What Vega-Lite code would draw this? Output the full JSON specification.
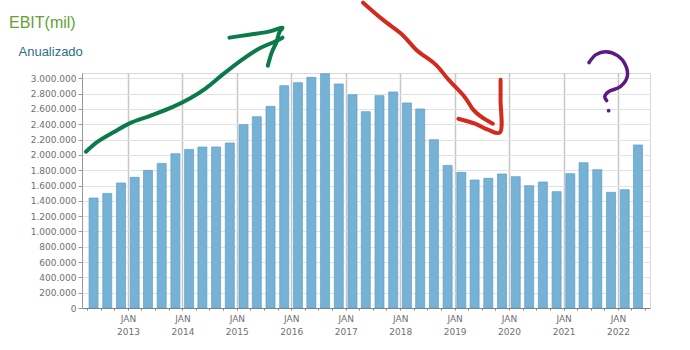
{
  "$schema": "https://vega.github.io/schema/vega-lite/v6.json",
  "autosize": {"type": "none"},
  "width": 568,
  "height": 235,
  "padding": {"left": 82, "top": 73, "right": 40, "bottom": 42},
  "background": "white",
  "config": {
    "locale": {"number": {"decimal": ",", "thousands": ".", "grouping": [3], "currency": ["", ""]}},
    "view": {"stroke": "#d8d8d8", "strokeWidth": 1},
    "font": "Liberation Sans"
  },
  "title": {
    "text": "EBIT(mil)",
    "anchor": "start",
    "frame": "group",
    "dx": -73,
    "offset": 0,
    "dy": 43,
    "baseline": "alphabetic",
    "fontSize": 16,
    "fontWeight": "normal",
    "font": "Liberation Sans",
    "color": "#64a032"
  },
  "datasets": {
    "bars": [
      {"t": "2012-05-15", "v": 1437000},
      {"t": "2012-08-15", "v": 1497000},
      {"t": "2012-11-15", "v": 1633000},
      {"t": "2013-02-15", "v": 1707000},
      {"t": "2013-05-15", "v": 1798000},
      {"t": "2013-08-15", "v": 1889000},
      {"t": "2013-11-15", "v": 2016000},
      {"t": "2014-02-15", "v": 2072000},
      {"t": "2014-05-15", "v": 2103000},
      {"t": "2014-08-15", "v": 2103000},
      {"t": "2014-11-15", "v": 2156000},
      {"t": "2015-02-15", "v": 2395000},
      {"t": "2015-05-15", "v": 2499000},
      {"t": "2015-08-15", "v": 2634000},
      {"t": "2015-11-15", "v": 2904000},
      {"t": "2016-02-15", "v": 2944000},
      {"t": "2016-05-15", "v": 3013000},
      {"t": "2016-08-15", "v": 3061000},
      {"t": "2016-11-15", "v": 2927000},
      {"t": "2017-02-15", "v": 2787000},
      {"t": "2017-05-15", "v": 2565000},
      {"t": "2017-08-15", "v": 2774000},
      {"t": "2017-11-15", "v": 2822000},
      {"t": "2018-02-15", "v": 2679000},
      {"t": "2018-05-15", "v": 2600000},
      {"t": "2018-08-15", "v": 2199000},
      {"t": "2018-11-15", "v": 1863000},
      {"t": "2019-02-15", "v": 1772000},
      {"t": "2019-05-15", "v": 1672000},
      {"t": "2019-08-15", "v": 1694000},
      {"t": "2019-11-15", "v": 1751000},
      {"t": "2020-02-15", "v": 1716000},
      {"t": "2020-05-15", "v": 1598000},
      {"t": "2020-08-15", "v": 1646000},
      {"t": "2020-11-15", "v": 1520000},
      {"t": "2021-02-15", "v": 1755000},
      {"t": "2021-05-15", "v": 1898000},
      {"t": "2021-08-15", "v": 1807000},
      {"t": "2021-11-15", "v": 1511000},
      {"t": "2022-02-15", "v": 1546000},
      {"t": "2022-05-15", "v": 2130000}
    ],
    "ann": [
      {"g": "green1", "i": 1, "t": "2012-03-25", "v": 2042000},
      {"g": "green1", "i": 2, "t": "2012-06-12", "v": 2173000},
      {"g": "green1", "i": 3, "t": "2012-10-02", "v": 2303000},
      {"g": "green1", "i": 4, "t": "2013-01-22", "v": 2421000},
      {"g": "green1", "i": 5, "t": "2013-06-03", "v": 2513000},
      {"g": "green1", "i": 6, "t": "2013-11-02", "v": 2630000},
      {"g": "green1", "i": 7, "t": "2014-02-22", "v": 2740000},
      {"g": "green1", "i": 8, "t": "2014-06-07", "v": 2870000},
      {"g": "green1", "i": 9, "t": "2014-09-27", "v": 3048000},
      {"g": "green1", "i": 10, "t": "2015-02-06", "v": 3244000},
      {"g": "green1", "i": 11, "t": "2015-05-29", "v": 3388000},
      {"g": "green1", "i": 12, "t": "2015-09-12", "v": 3479000},
      {"g": "green1", "i": 13, "t": "2015-11-03", "v": 3532000},
      {"g": "green2", "i": 1, "t": "2014-11-13", "v": 3532000},
      {"g": "green2", "i": 2, "t": "2015-03-24", "v": 3571000},
      {"g": "green2", "i": 3, "t": "2015-08-03", "v": 3610000},
      {"g": "green2", "i": 4, "t": "2015-11-03", "v": 3662000},
      {"g": "green2", "i": 5, "t": "2015-10-15", "v": 3610000},
      {"g": "green2", "i": 6, "t": "2015-09-25", "v": 3479000},
      {"g": "green2", "i": 7, "t": "2015-08-23", "v": 3336000},
      {"g": "green2", "i": 8, "t": "2015-07-28", "v": 3166000},
      {"g": "red1", "i": 1, "t": "2017-04-27", "v": 3989000},
      {"g": "red1", "i": 2, "t": "2017-09-06", "v": 3767000},
      {"g": "red1", "i": 3, "t": "2018-01-15", "v": 3571000},
      {"g": "red1", "i": 4, "t": "2018-04-18", "v": 3375000},
      {"g": "red1", "i": 5, "t": "2018-08-27", "v": 3179000},
      {"g": "red1", "i": 6, "t": "2018-11-21", "v": 2983000},
      {"g": "red1", "i": 7, "t": "2019-03-13", "v": 2748000},
      {"g": "red1", "i": 8, "t": "2019-05-05", "v": 2591000},
      {"g": "red1", "i": 9, "t": "2019-06-27", "v": 2500000},
      {"g": "red1", "i": 10, "t": "2019-09-14", "v": 2408000},
      {"g": "red2", "i": 1, "t": "2019-01-26", "v": 2473000},
      {"g": "red2", "i": 2, "t": "2019-05-18", "v": 2408000},
      {"g": "red2", "i": 3, "t": "2019-08-12", "v": 2330000},
      {"g": "red2", "i": 4, "t": "2019-10-30", "v": 2290000},
      {"g": "red2", "i": 5, "t": "2019-11-05", "v": 2722000},
      {"g": "red2", "i": 6, "t": "2019-11-05", "v": 2983000},
      {"g": "purple", "i": 1, "t": "2021-06-20", "v": 3205000},
      {"g": "purple", "i": 2, "t": "2021-08-06", "v": 3310000},
      {"g": "purple", "i": 3, "t": "2021-10-11", "v": 3349000},
      {"g": "purple", "i": 4, "t": "2021-12-29", "v": 3297000},
      {"g": "purple", "i": 5, "t": "2022-02-19", "v": 3179000},
      {"g": "purple", "i": 6, "t": "2022-03-04", "v": 3022000},
      {"g": "purple", "i": 7, "t": "2022-01-17", "v": 2892000},
      {"g": "purple", "i": 8, "t": "2021-10-30", "v": 2826000},
      {"g": "purple", "i": 9, "t": "2021-10-04", "v": 2761000},
      {"g": "purple", "i": 10, "t": "2021-10-17", "v": 2709000},
      {"g": "dot", "i": 1, "t": "2021-10-30", "v": 2578000}
    ]
  },
  "encoding": {
    "x": {
      "field": "t",
      "type": "temporal",
      "title": null,
      "scale": {"type": "utc", "domain": [{"year": 2012, "month": 4, "date": 1, "utc": true}, {"year": 2022, "month": 7, "date": 1, "utc": true}], "nice": false},
      "axis": {
        "tickCount": {"interval": "month", "step": 3},
        "labelExpr": "utcmonth(datum.value) == 0 ? ['JAN', utcFormat(datum.value, '%Y')] : ''",
        "labelOverlap": false,
        "labelFlush": false,
        "labelBound": false,
        "labelFont": "DejaVu Sans",
        "labelFontSize": 9,
        "labelColor": "#707070",
        "labelLineHeight": 13,
        "labelPadding": 4,
        "domainColor": "#808080",
        "tickColor": "#808080",
        "tickSize": 2,
        "gridColor": {"condition": {"test": "utcmonth(datum.value) == 0", "value": "#c6c6c6"}, "value": "transparent"},
        "gridWidth": 1.5
      }
    },
    "y": {
      "field": "v",
      "type": "quantitative",
      "scale": {"domain": [0, 3070000], "nice": false, "zero": true},
      "axis": {
        "values": [0, 200000, 400000, 600000, 800000, 1000000, 1200000, 1400000, 1600000, 1800000, 2000000, 2200000, 2400000, 2600000, 2800000, 3000000],
        "format": ",d",
        "labelFont": "DejaVu Sans",
        "labelFontSize": 9,
        "labelColor": "#707070",
        "labelPadding": 2,
        "tickSize": 4,
        "tickColor": "#999999",
        "domainColor": "#999999",
        "gridColor": "#e2e2e2",
        "title": "Anualizado",
        "titleAngle": 0,
        "titleAlign": "left",
        "titleBaseline": "alphabetic",
        "titleX": -64,
        "titleY": -18,
        "titleFont": "Liberation Sans",
        "titleFontSize": 13,
        "titleFontWeight": "normal",
        "titleColor": "#2d6e8c"
      }
    }
  },
  "layer": [
    {
      "data": {"name": "bars"},
      "mark": {"type": "bar", "size": 9, "fill": "#76b2d6", "stroke": "#5e9cc4", "strokeWidth": 0.7}
    },
    {
      "data": {"name": "ann"},
      "transform": [{"filter": "datum.g == 'green1' || datum.g == 'green2'"}],
      "mark": {"type": "line", "interpolate": "catmull-rom", "stroke": "#0b7a4b", "strokeWidth": 4, "strokeCap": "round", "strokeJoin": "round", "clip": false},
      "encoding": {"detail": {"field": "g"}, "order": {"field": "i", "type": "quantitative"}}
    },
    {
      "data": {"name": "ann"},
      "transform": [{"filter": "datum.g == 'red1' || datum.g == 'red2'"}],
      "mark": {"type": "line", "interpolate": "catmull-rom", "stroke": "#d42a1e", "strokeWidth": 4, "strokeCap": "round", "strokeJoin": "round", "clip": false},
      "encoding": {"detail": {"field": "g"}, "order": {"field": "i", "type": "quantitative"}}
    },
    {
      "data": {"name": "ann"},
      "transform": [{"filter": "datum.g == 'purple'"}],
      "mark": {"type": "line", "interpolate": "catmull-rom", "stroke": "#5b1a85", "strokeWidth": 3.5, "strokeCap": "round", "strokeJoin": "round", "clip": false},
      "encoding": {"order": {"field": "i", "type": "quantitative"}}
    },
    {
      "data": {"name": "ann"},
      "transform": [{"filter": "datum.g == 'dot'"}],
      "mark": {"type": "circle", "size": 14, "color": "#5b1a85", "opacity": 1, "clip": false}
    }
  ]
}
